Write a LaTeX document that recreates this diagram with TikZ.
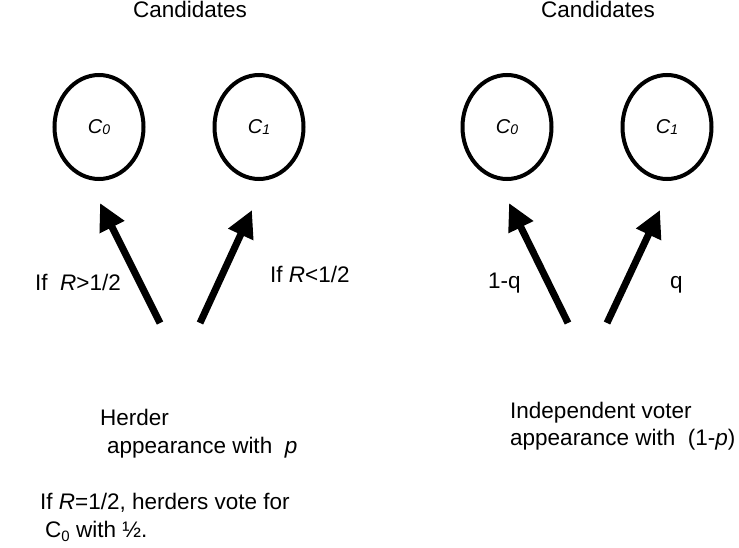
\documentclass[tikz,border=0pt]{standalone}
\usepackage{fontspec}
\setmainfont{Liberation Sans}
\usetikzlibrary{arrows.meta,shapes.geometric}
\begin{document}
\begin{tikzpicture}[x=1pt,y=-1pt,
  cand/.style={draw,ellipse,line width=4pt,minimum width=89pt,minimum height=104pt,inner sep=0pt},
  lbl/.style={anchor=base west,inner sep=0pt,font=\fontsize{22.5}{26}\selectfont},
  ttl/.style={anchor=base,inner sep=0pt,font=\fontsize{22.5}{26}\selectfont},
  clab/.style={font=\fontsize{20}{22}\selectfont\itshape},
  bigarrow/.style={line width=7pt,-{Triangle[length=27pt,width=26pt]}}]
\useasboundingbox (0,0) rectangle (739,548);
% titles
\node[ttl] (t1) at (190,18) {Candidates};
\node[ttl] (t2) at (598,18) {Candidates};
% candidates
\node[cand] (a0) at (99,127) {};
\node[cand] (a1) at (259,127) {};
\node[cand] (b0) at (507,127) {};
\node[cand] (b1) at (667,127) {};
\node[clab] (a0t) at (a0.center) {C\raisebox{-1pt}{\fontsize{14}{15}\selectfont 0}};
\node[clab] (a1t) at (a1.center) {C\raisebox{-1pt}{\fontsize{14}{15}\selectfont 1}};
\node[clab] (b0t) at (b0.center) {C\raisebox{-1pt}{\fontsize{14}{15}\selectfont 0}};
\node[clab] (b1t) at (b1.center) {C\raisebox{-1pt}{\fontsize{14}{15}\selectfont 1}};
% arrow coordinates
\coordinate (ha0s) at (160,323);
\coordinate (ha0e) at (100,203);
\coordinate (ha1s) at (200,323);
\coordinate (ha1e) at (252,210);
\coordinate (ib0s) at (568,323);
\coordinate (ib0e) at (509,203);
\coordinate (ib1s) at (607,323);
\coordinate (ib1e) at (660,210);
\draw[bigarrow] (ha0s) -- (ha0e);
\draw[bigarrow] (ha1s) -- (ha1e);
\draw[bigarrow] (ib0s) -- (ib0e);
\draw[bigarrow] (ib1s) -- (ib1e);
% arrow labels
\node[lbl] (l1) at (35,290) {If\ \ \textit{R}>1/2};
\node[lbl] (l2) at (270,282) {If \textit{R}<1/2};
\node[lbl] (l3) at (488,288) {1-q};
\node[lbl] (l4) at (670,288) {q};
% bottom texts
\node[lbl] (h1) at (100,425) {Herder};
\node[lbl] (h2) at (107,453) {appearance with\ \ \textit{p}};
\node[lbl] (h3) at (40,509) {If \textit{R}=1/2, herders vote for};
\node[lbl] (h4) at (45,537) {C\raisebox{-4pt}{\fontsize{15}{16}\selectfont 0} with ½.};
\node[lbl] (i1) at (510,418) {Independent voter};
\node[lbl] (i2) at (510,445) {appearance with\ \ (1-\textit{p})};
\end{tikzpicture}
\end{document}
